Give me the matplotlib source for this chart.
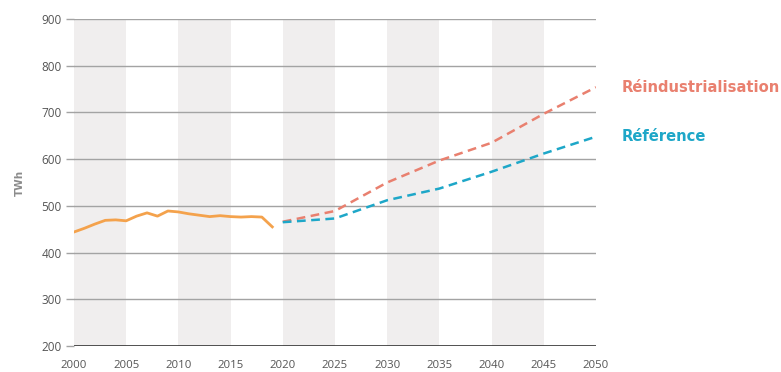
import matplotlib.pyplot as plt

# historical consumption (TWh)
hist_years = list(range(2000, 2020))
hist_values = [444, 452, 461, 469, 470, 468, 478, 485, 478, 489,
               487, 483, 480, 477, 479, 477, 476, 477, 476, 455]

# scenario projections
proj_years = [2020, 2025, 2030, 2035, 2040, 2045, 2050]
reindus_values = [466, 489, 550, 597, 635, 697, 754]
reference_values = [465, 473, 512, 537, 573, 612, 648]

shaded_spans = [(2000, 2005), (2010, 2015), (2020, 2025), (2030, 2035), (2040, 2045)]
y_ticks = [200, 300, 400, 500, 600, 700, 800, 900]
x_ticks = list(range(2000, 2051, 5))

ORANGE = "#f4a24c"
SALMON = "#e9806f"
TEAL = "#1ea7c8"

fig = plt.figure(figsize=(7.81, 3.72), dpi=100)
ax = fig.add_axes([0.0947, 0.0699, 0.6683, 0.8790])

for start, end in shaded_spans:
    ax.axvspan(start, end, color="#f0eeee", lw=0, zorder=0)

for v in y_ticks[1:]:
    ax.axhline(v, color="#a3a3a3", lw=1, zorder=1)
ax.axhline(200, color="#333333", lw=1.2, zorder=1)

ax.plot(hist_years, hist_values, color=ORANGE, lw=2, zorder=3,
        solid_joinstyle="round")
ax.plot(proj_years, reindus_values, color=SALMON, lw=1.8, ls=(0, (3.5, 2.2)), zorder=3)
ax.plot(proj_years, reference_values, color=TEAL, lw=1.8, ls=(0, (3.5, 2.2)), zorder=3)

ax.annotate("Réindustrialisation", xy=(2050, reindus_values[-1]),
            xytext=(26, 0), textcoords="offset pixels", va="center", ha="left",
            color=SALMON, fontsize=10.6, fontweight="bold", annotation_clip=False)
ax.annotate("Référence", xy=(2050, reference_values[-1]),
            xytext=(26, 0), textcoords="offset pixels", va="center", ha="left",
            color=TEAL, fontsize=10.6, fontweight="bold", annotation_clip=False)

ax.set_xlim(2000, 2050)
ax.set_ylim(200, 900)
ax.set_xticks(x_ticks)
ax.set_yticks(y_ticks)
ax.tick_params(axis="x", length=0, pad=10, labelsize=8.2, labelcolor="#555555")
ax.tick_params(axis="y", length=6, width=1, color="#a3a3a3", pad=3,
               labelsize=8.5, labelcolor="#555555")
for lab in ax.get_xticklabels() + ax.get_yticklabels():
    lab.set_family("Open Sans")

for side in ["top", "right", "left", "bottom"]:
    ax.spines[side].set_visible(False)

ax.set_ylabel("TWh", color="#8c8c8c", fontsize=7.5, fontweight="bold", labelpad=12)

fig.savefig("out.png", dpi=100)
